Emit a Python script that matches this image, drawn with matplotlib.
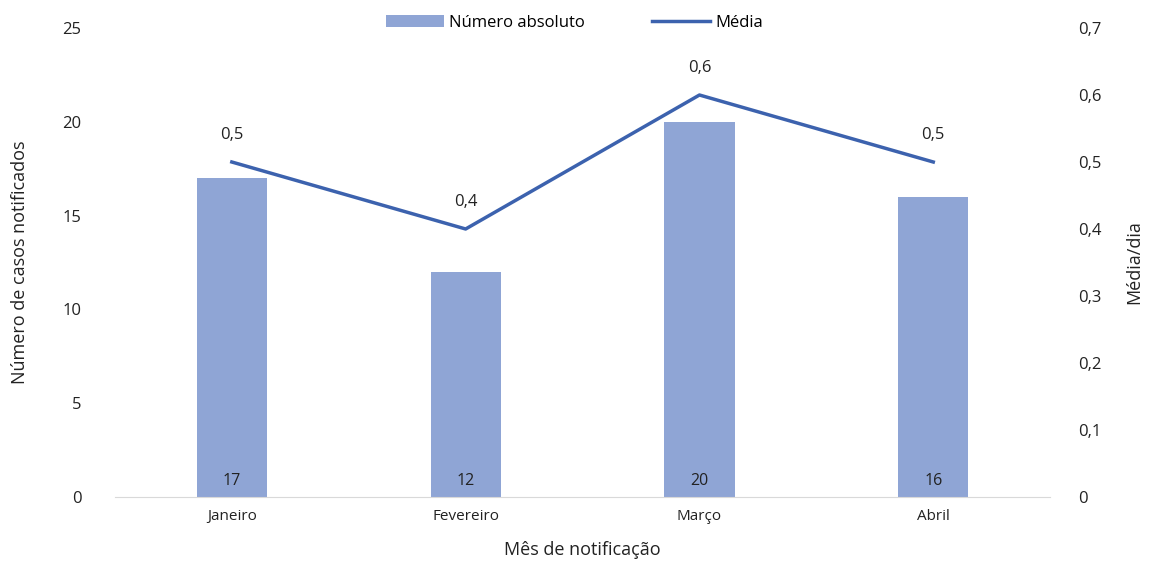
import matplotlib.pyplot as plt
from matplotlib.ticker import FuncFormatter
import numpy as np

plt.rcParams['font.family'] = ['Open Sans', 'DejaVu Sans']

meses = ['Janeiro', 'Fevereiro', 'Março', 'Abril']
casos = [17, 12, 20, 16]
media = [0.5, 0.4, 0.6, 0.5]

bar_color = '#8FA5D5'
line_color = '#3C62AE'
txt = '#222222'

fig = plt.figure(figsize=(11.49, 5.67), dpi=100)
ax = fig.add_axes([0.100, 0.1235, 0.814, 0.8271])
ax2 = ax.twinx()

x = np.arange(len(meses))
bars = ax.bar(x, casos, width=0.30, color=bar_color, label='Número absoluto', zorder=2)
for xi, v in zip(x, casos):
    ax.text(xi, 0.4, str(v), ha='center', va='bottom', fontsize=11.5, color=txt)

ax.set_xlim(-0.5, 3.5)
ax.set_ylim(0, 25)
ax.set_yticks(range(0, 26, 5))
ax.set_xticks(x)
ax.set_xticklabels(meses, fontsize=11, color=txt)
ax.tick_params(axis='y', labelsize=12, colors=txt, length=0, pad=24)
ax.tick_params(axis='x', length=0, pad=9)
for s in ['top', 'right', 'left']:
    ax.spines[s].set_visible(False)
ax.spines['bottom'].set_color('#d9d9d9')
ax.set_ylabel('Número de casos notificados', fontsize=13, color=txt, labelpad=24)
ax.set_xlabel('Mês de notificação', fontsize=13, color=txt, labelpad=12)

# media diaria no eixo da direita
ln, = ax2.plot(x, media, color=line_color, linewidth=2.5, label='Média', zorder=3)
for xi, v in zip(x, media):
    ax2.annotate(f'{v:.1f}'.replace('.', ','), (xi, v), xytext=(0, 14),
                 textcoords='offset points', ha='center', va='bottom',
                 fontsize=12, color=txt)
ax2.set_ylim(0, 0.7)
ax2.set_yticks(np.arange(0, 0.71, 0.1))
ax2.yaxis.set_major_formatter(FuncFormatter(
    lambda v, p: '0' if abs(v) < 1e-9 else f'{v:.1f}'.replace('.', ',')))
ax2.tick_params(axis='y', labelsize=12, colors=txt, length=0, pad=20)
for s in ['top', 'right', 'left', 'bottom']:
    ax2.spines[s].set_visible(False)
ax2.set_ylabel('Média/dia', fontsize=13, color=txt, labelpad=17)

fig.legend(handles=[bars, ln], loc='upper center', bbox_to_anchor=(0.5, 1.0),
           ncol=2, frameon=False, fontsize=12, handlelength=3.5,
           columnspacing=4, handletextpad=0.3)

fig.savefig('out.png', dpi=100)
